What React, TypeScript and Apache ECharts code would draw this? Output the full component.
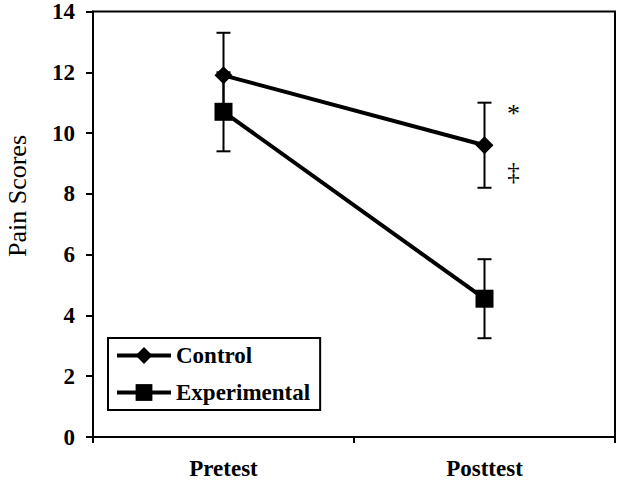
import React, { useEffect, useRef } from "react";
import * as echarts from "echarts";

const categories = ["Pretest", "Posttest"];
const controlMean = [11.9, 9.6];
const controlErr = [1.4, 1.4];
const expMean = [10.7, 4.55];
const expErr = [1.3, 1.3];
const annotations: [number, number, string][] = [
  [1, 10.75, "*"],
  [1, 8.75, "‡"],
];
const yTicks = { min: 0, max: 14, interval: 2 };

const FONT = '"Liberation Serif", "Times New Roman", serif';

export default function App() {
  const ref = useRef<HTMLDivElement>(null);
  useEffect(() => {
    document.body.style.margin = "0";
    const chart = echarts.init(ref.current!, null, { renderer: "svg" });
    const errData = (mean: number[], err: number[]) =>
      mean.map((m, i) => [i, m - err[i], m + err[i]]);
    const errorSeries = (name: string, data: number[][]) => ({
      type: "custom",
      name: name + " err",
      z: 1,
      silent: true,
      data,
      renderItem: (params: any, api: any) => {
        const x = api.value(0);
        const lo = api.coord([x, api.value(1)]);
        const hi = api.coord([x, api.value(2)]);
        const cw = 7;
        const style = { stroke: "#000", lineWidth: 2 };
        return {
          type: "group",
          children: [
            { type: "line", shape: { x1: lo[0], y1: lo[1], x2: hi[0], y2: hi[1] }, style },
            { type: "line", shape: { x1: hi[0] - cw, y1: hi[1], x2: hi[0] + cw, y2: hi[1] }, style },
            { type: "line", shape: { x1: lo[0] - cw, y1: lo[1], x2: lo[0] + cw, y2: lo[1] }, style },
          ],
        };
      },
    });
    chart.setOption({
      animation: false,
      grid: {
        left: 93,
        top: 9,
        right: 2,
        bottom: 45,
        show: true,
        borderColor: "#000",
        borderWidth: 2,
      },
      legend: {
        orient: "vertical",
        left: 108,
        top: 338,
        borderColor: "#000",
        borderWidth: 2,
        padding: [6, 10, 6, 7],
        itemGap: 14,
        itemWidth: 54,
        itemHeight: 21,
        data: ["Control", "Experimental"],
        lineStyle: { color: "#000", width: 4 },
        itemStyle: { color: "#000" },
        textStyle: {
          fontFamily: FONT,
          fontWeight: "bold",
          fontSize: 23,
          color: "#000",
        },
      },
      xAxis: {
        type: "category",
        data: categories,
        boundaryGap: true,
        axisLine: { lineStyle: { color: "#000", width: 2 } },
        axisTick: { show: true, length: 6, lineStyle: { color: "#000", width: 2 } },
        axisLabel: {
          margin: 20,
          fontFamily: FONT,
          fontWeight: "bold",
          fontSize: 23,
          color: "#000",
        },
      },
      yAxis: {
        type: "value",
        min: yTicks.min,
        max: yTicks.max,
        interval: yTicks.interval,
        splitLine: { show: false },
        axisLine: { show: true, lineStyle: { color: "#000", width: 2 } },
        axisTick: { show: true, length: 7, lineStyle: { color: "#000", width: 2 } },
        axisLabel: {
          margin: 18,
          fontFamily: FONT,
          fontWeight: "bold",
          fontSize: 23,
          color: "#000",
        },
      },
      graphic: [
        {
          type: "text",
          x: 17,
          y: 196,
          rotation: Math.PI / 2,
          style: {
            text: "Pain Scores",
            fontFamily: FONT,
            fontSize: 26,
            fill: "#000",
            textAlign: "center",
            textVerticalAlign: "middle",
          },
        },
      ],
      series: [
        errorSeries("Control", errData(controlMean, controlErr)),
        errorSeries("Experimental", errData(expMean, expErr)),
        {
          type: "line",
          name: "Control",
          data: controlMean,
          symbol: "diamond",
          symbolSize: 18,
          z: 3,
          lineStyle: { color: "#000", width: 4 },
          itemStyle: { color: "#000" },
        },
        {
          type: "line",
          name: "Experimental",
          data: expMean,
          symbol: "rect",
          symbolSize: 18,
          z: 3,
          lineStyle: { color: "#000", width: 4 },
          itemStyle: { color: "#000" },
        },
        {
          type: "custom",
          name: "annotations",
          z: 4,
          silent: true,
          data: annotations,
          renderItem: (params: any, api: any) => {
            const p = api.coord([api.value(0), api.value(1)]);
            const txt = annotations[params.dataIndex][2];
            return {
              type: "text",
              x: p[0] + 29,
              y: p[1] + (txt === "*" ? 3 : 0),
              style: {
                text: txt,
                fontFamily: FONT,
                fontSize: txt === "*" ? 26 : 25,
                fill: "#000",
                textAlign: "center",
                textVerticalAlign: "middle",
              },
            };
          },
        },
      ],
    });
    return () => chart.dispose();
  }, []);
  return <div ref={ref} style={{ width: 617, height: 482 }} />;
}
